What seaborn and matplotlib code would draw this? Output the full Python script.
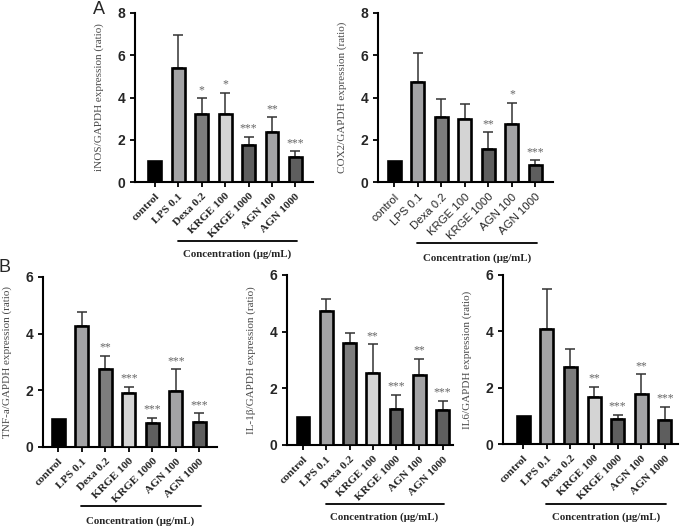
import numpy as np
import pandas as pd
import matplotlib
matplotlib.use('Agg')
import matplotlib.pyplot as plt
import matplotlib.transforms as mtransforms
import seaborn as sns

# group labels shared by every panel
groups = ['control', 'LPS 0.1', 'Dexa 0.2', 'KRGE 100', 'KRGE 1000', 'AGN 100', 'AGN 1000']
bar_colors = ['#000000', '#a2a2a6', '#7d7d7d', '#d4d4d4', '#5e5e5e', '#a2a2a6', '#5e5e5e']

# panel A
inos_mean = [1.0, 5.41, 3.24, 3.20, 1.76, 2.39, 1.19]
inos_top = [1.0, 6.95, 3.96, 4.23, 2.15, 3.07, 1.45]
inos_sig = ['', '', '*', '*', '***', '**', '***']

cox2_mean = [1.0, 4.72, 3.10, 2.99, 1.57, 2.74, 0.79]
cox2_top = [1.0, 6.12, 3.92, 3.68, 2.36, 3.76, 1.02]
cox2_sig = ['', '', '', '', '**', '*', '***']

# panel B
tnf_mean = [1.0, 4.27, 2.75, 1.92, 0.86, 1.96, 0.89]
tnf_top = [1.0, 4.76, 3.22, 2.13, 1.04, 2.75, 1.20]
tnf_sig = ['', '', '**', '***', '***', '***', '***']

il1b_mean = [1.0, 4.72, 3.61, 2.55, 1.27, 2.46, 1.22]
il1b_top = [1.0, 5.16, 3.96, 3.55, 1.77, 3.05, 1.56]
il1b_sig = ['', '', '', '**', '***', '**', '***']

il6_mean = [1.0, 4.09, 2.72, 1.66, 0.88, 1.78, 0.85]
il6_top = [1.0, 5.49, 3.37, 2.04, 1.04, 2.48, 1.33]
il6_sig = ['', '', '', '**', '***', '**', '***']

SERIF = 'Liberation Serif'
SANS = 'Liberation Sans'

sns.set_style('ticks')
plt.rcParams['font.family'] = [SANS, 'DejaVu Sans']

W, H = 685, 526
fig = plt.figure(figsize=(W / 100, H / 100), dpi=100)


def px_axes(left, right, top, bottom):
    return fig.add_axes([left / W, 1 - bottom / H, (right - left) / W, (bottom - top) / H])


def draw_panel(ax, means, tops, sigs, ylabel, ymax, xlim, tick_font, tick_weight):
    df = pd.DataFrame({'group': groups, 'value': means})
    sns.barplot(data=df, x='group', y='value', hue='group', palette=bar_colors,
                order=groups, hue_order=groups, legend=False, errorbar=None,
                width=0.55, edgecolor='black', linewidth=1.9, ax=ax, zorder=3)
    x = np.arange(len(groups))
    means = np.array(means)
    up = np.array(tops) - means
    ax.errorbar(x[1:], means[1:], yerr=[np.zeros(len(x) - 1), up[1:]], fmt='none',
                ecolor='#333333', elinewidth=1.1, capsize=3.5, capthick=1.1, zorder=2)
    for xi, t, s in zip(x, tops, sigs):
        if s:
            ax.annotate(s, (xi, t), xytext=(0, 1.5), textcoords='offset points',
                        ha='center', va='bottom', fontsize=8.5, color='#666666',
                        family=SERIF)
    ax.set_ylim(0, ymax)
    ax.set_xlim(*xlim)
    ax.set_yticks(np.arange(0, ymax + 0.1, 2))
    ax.set_xlabel('')
    ax.set_ylabel(ylabel, family=SERIF, fontsize=8, color='#4a4a4a')
    sns.despine(ax=ax)
    for sp in ['left', 'bottom']:
        ax.spines[sp].set_linewidth(1.5)
        ax.spines[sp].set_color('black')
    ax.tick_params(axis='both', length=3.5, width=1.3, color='black', direction='out')
    for lab in ax.get_yticklabels():
        lab.set_fontweight('bold')
        lab.set_fontsize(10)
        lab.set_family(SANS)
    ax.set_xticks(x)
    ax.set_xticklabels(groups, rotation=45, ha='right', rotation_mode='anchor',
                       family=tick_font, fontweight=tick_weight, fontsize=8.2)
    return ax


def concentration(ax, line_px, text_px, height_px):
    trans = mtransforms.blended_transform_factory(ax.transData, ax.transAxes)
    ly = -line_px / height_px
    ty = -text_px / height_px
    ax.plot([0.98, 6.05], [ly, ly], color='black', lw=1.3, transform=trans, clip_on=False)
    ax.text(3.5, ty, 'Concentration (\u03bcg/mL)', transform=trans, ha='center',
            va='center', family=SERIF, fontweight='bold', fontsize=7.8)


ax1 = px_axes(135, 313, 13, 182)
draw_panel(ax1, inos_mean, inos_top, inos_sig, 'iNOS/GAPDH expression (ratio)', 8,
           (-0.85, 6.75), SERIF, 'bold')
concentration(ax1, 59, 72, 169)

ax2 = px_axes(378, 553, 13, 182)
draw_panel(ax2, cox2_mean, cox2_top, cox2_sig, 'COX2/GAPDH expression (ratio)', 8,
           (-0.7, 6.75), SANS, 'normal')
concentration(ax2, 61, 76, 169)

ax3 = px_axes(43, 217, 277, 447)
draw_panel(ax3, tnf_mean, tnf_top, tnf_sig, 'TNF-a/GAPDH expression (ratio)', 6,
           (-0.65, 6.75), SERIF, 'bold')
concentration(ax3, 59, 74, 170)

ax4 = px_axes(287, 453, 275, 445)
draw_panel(ax4, il1b_mean, il1b_top, il1b_sig, 'IL-1\u03b2/GAPDH expression (ratio)', 6,
           (-0.69, 6.45), SERIF, 'bold')
concentration(ax4, 59, 72, 170)

ax5 = px_axes(503, 678, 275, 444)
draw_panel(ax5, il6_mean, il6_top, il6_sig, 'IL6/GAPDH expression (ratio)', 6,
           (-0.85, 6.55), SERIF, 'bold')
concentration(ax5, 60, 73, 169)

for ax in [ax1, ax2, ax3, ax4, ax5]:
    ax.yaxis.set_label_coords(-31 / (ax.get_position().width * W), 0.5)

fig.text(99 / W, 1 - 10 / H, 'A', fontsize=13, ha='center', va='center', family=SANS)
fig.text(5 / W, 1 - 267 / H, 'B', fontsize=13, ha='center', va='center', family=SANS)

fig.savefig('out.png', dpi=100)
